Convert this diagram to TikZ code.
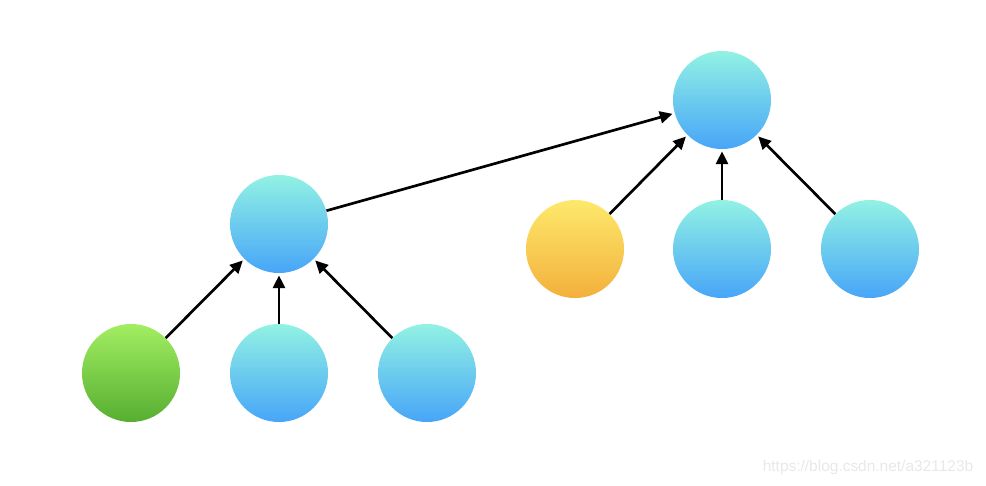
\documentclass[tikz,border=0pt]{standalone}
\usepackage{fontspec}
\setmainfont{Liberation Sans}
\usetikzlibrary{arrows.meta}
\definecolor{tealtop}{HTML}{92F2E3}
\definecolor{bluebot}{HTML}{47A5F8}
\definecolor{greentop}{HTML}{A2EE62}
\definecolor{greenbot}{HTML}{56AE30}
\definecolor{yellowtop}{HTML}{FDE96C}
\definecolor{yellowbot}{HTML}{F3B03B}
\begin{document}
\begin{tikzpicture}[x=0.025cm, y=-0.025cm]
        \tikzstyle{circ} = [circle, minimum size=2.45cm, inner sep=0pt, top color=tealtop, bottom color=bluebot]
        \tikzstyle{leaf} = [circ, top color=greentop, bottom color=greenbot]
        \tikzstyle{odd} = [circ, top color=yellowtop, bottom color=yellowbot]
        \tikzstyle{link} = [->, >={Triangle[length=9pt, width=8.5pt]}, line width=1.9pt, shorten >=1.5pt]
        \useasboundingbox (0, 0) rectangle (986, 486);
        \node[circ] (R) at (722, 100) {};
        \node[circ] (L) at (279, 224) {};
        \node[odd] (R1) at (575, 249) {};
        \node[circ] (R2) at (722, 249) {};
        \node[circ] (R3) at (870, 249) {};
        \node[leaf] (L1) at (131, 373) {};
        \node[circ] (L2) at (279, 373) {};
        \node[circ] (L3) at (427, 373) {};
        \draw[link] (L1) -- (L);
        \draw[link] (L2) -- (L);
        \draw[link] (L3) -- (L);
        \draw[link] (R1) -- (R);
        \draw[link] (R2) -- (R);
        \draw[link] (R3) -- (R);
        \draw[link] (L) -- (R);
        \node[text=black!9, font=\fontsize{11pt}{13pt}\selectfont] (mark) at (868, 467) {https://blog.csdn.net/a321123b};
      \end{tikzpicture}
\end{document}
